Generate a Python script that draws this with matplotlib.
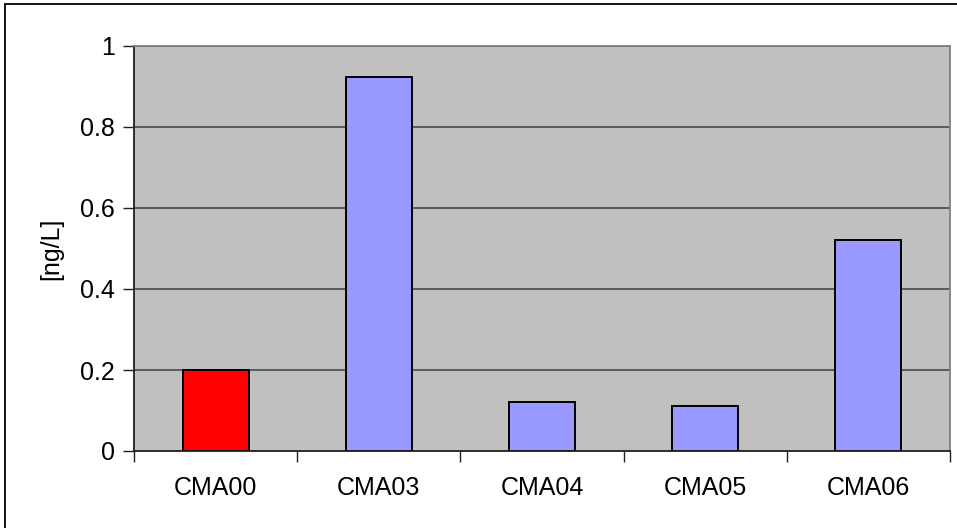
import numpy as np
import matplotlib
matplotlib.use("Agg")
import matplotlib.pyplot as plt
from matplotlib.patches import Rectangle

plt.rcParams['font.family'] = ['Liberation Sans', 'DejaVu Sans']

# data
sites = ["CMA00", "CMA03", "CMA04", "CMA05", "CMA06"]
conc = [0.20, 0.924, 0.12, 0.11, 0.52]
bar_colors = ["#FF0000", "#9999FF", "#9999FF", "#9999FF", "#9999FF"]
yticks = [0, 0.2, 0.4, 0.6, 0.8, 1]
ytick_labels = ["0", "0.2", "0.4", "0.6", "0.8", "1"]

W, H = 957, 528
fig = plt.figure(figsize=(W / 100, H / 100), dpi=100)
fig.patch.set_facecolor("white")

# chart area border (cut off at the right and bottom)
fig.patches.append(Rectangle((5 / W, -0.1), 1.2, 1 - 4 / H + 0.1,
                             transform=fig.transFigure, fill=False,
                             edgecolor="black", linewidth=1.3, zorder=0))

ax = fig.add_axes([134 / W, 1 - 451 / H, (950 - 134) / W, (451 - 46) / H])
ax.set_facecolor("#C0C0C0")

x = np.arange(len(sites))
ax.bar(x, conc, width=0.405, color=bar_colors, edgecolor="black",
       linewidth=1.4, zorder=3)

ax.set_xlim(-0.5, len(sites) - 0.5)
ax.set_ylim(0, 1)
ax.set_yticks(yticks)
ax.set_yticklabels(ytick_labels)
for y in yticks[1:]:
    ax.axhline(y, color="#404040", linewidth=1.1, zorder=1)

# category ticks sit between bars
ax.set_xticks(np.arange(len(sites) + 1) - 0.5)
ax.set_xticklabels([])
ax.set_xticks(x, minor=True)
ax.set_xticklabels(sites, minor=True, fontsize=18)
ax.tick_params(axis="x", which="minor", length=0, pad=18)
ax.tick_params(axis="x", which="major", length=8, width=1, direction="out", color="#202020")
ax.tick_params(axis="y", length=8, width=1, direction="out", labelsize=18, pad=6, color="#202020")

ax.spines["left"].set_color("#202020")
ax.spines["bottom"].set_color("#202020")
ax.spines["top"].set_color("#808080")
ax.spines["right"].set_color("#808080")
for s in ax.spines.values():
    s.set_linewidth(1.3)
    s.set_zorder(4)

ax.set_ylabel("[ng/L]", fontsize=18, labelpad=12)

fig.savefig("out.png", dpi=100)
